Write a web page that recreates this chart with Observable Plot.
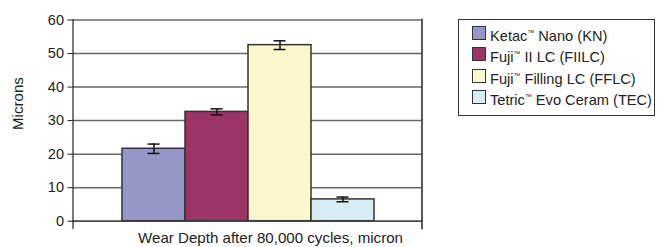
<!DOCTYPE html>
<html>
<head>
<meta charset="utf-8">
<script src="https://cdn.jsdelivr.net/npm/d3@7"></script>
<script src="https://cdn.jsdelivr.net/npm/@observablehq/plot@0.6"></script>
<style>
  html, body { margin: 0; padding: 0; background: #fff; }
  #wrap { position: relative; width: 657px; height: 247px; font-family: "Liberation Sans", Arial, sans-serif; color: #222; }
  #chart svg { display: block; }
  .xlabel { position: absolute; left: 138px; top: 229px; font-size: 15px; white-space: nowrap; transform-origin: 0 0; }
  .ylabel { position: absolute; left: 9px; top: 130px; font-size: 15px; white-space: nowrap; transform-origin: 0 0; }
  .legend { position: absolute; left: 458px; top: 19px; width: 197px; height: 97px; border: 1px solid #333; box-sizing: border-box; }
  .sw { position: absolute; left: 13px; width: 12px; height: 12px; border: 1px solid #333; }
  .lab { position: absolute; left: 31px; font-size: 15px; line-height: 14px; white-space: nowrap; transform-origin: 0 50%; }
  .tm { font-size: 7px; vertical-align: 6px; }
</style>
</head>
<body>
<div id="wrap">
  <div id="chart"></div>
  <div class="xlabel" id="xlabel"></div>
  <div class="ylabel" id="ylabel"></div>
  <div class="legend" id="legend"></div>
</div>
<script>
const categories = ["Ketac™ Nano (KN)", "Fuji™ II LC (FIILC)", "Fuji™ Filling LC (FFLC)", "Tetric™ Evo Ceram (TEC)"];
const values = [21.6, 32.6, 52.5, 6.5];
const errors = [1.4, 0.9, 1.3, 0.7];
const colors = ["#9796c9", "#9b3566", "#fcf8cd", "#d5edf3"];
const yTicks = [0, 10, 20, 30, 40, 50, 60];
const xTitle = "Wear Depth after 80,000 cycles, micron";
const yTitle = "Microns";

const data = categories.map((c, i) => ({cat: c, v: values[i], lo: values[i] - errors[i], hi: values[i] + errors[i]}));

const chart = Plot.plot({
  width: 657,
  height: 247,
  marginLeft: 72.5,
  marginRight: 235.5,
  marginTop: 19,
  marginBottom: 19,
  style: {fontFamily: '"Liberation Sans", Arial, sans-serif', fontSize: "14px", color: "#222"},
  x: {type: "band", domain: categories, range: [120.5, 375.5], padding: 0, axis: null},
  y: {domain: [0, 60], range: [220.7, 19.5], ticks: yTicks},
  color: {domain: categories, range: colors},
  marks: [
    Plot.ruleY(yTicks, {stroke: "#666", strokeWidth: 1.5}),
    Plot.barY(data, {x: "cat", y: "v", fill: "cat", stroke: "#333", strokeWidth: 1.5}),
    Plot.ruleY([0], {stroke: "#444", strokeWidth: 1.5}),
    Plot.ruleX(data, {x: "cat", y1: "lo", y2: "hi", stroke: "#111", strokeWidth: 1.5}),
    Plot.tickY(data, {x: "cat", y: "lo", stroke: "#111", strokeWidth: 1.5, insetLeft: 25.5, insetRight: 25.5}),
    Plot.tickY(data, {x: "cat", y: "hi", stroke: "#111", strokeWidth: 1.5, insetLeft: 25.5, insetRight: 25.5}),
    Plot.axisY(yTicks, {tickSize: 5, tickPadding: 4, stroke: "#222", label: null, fontSize: 14.5}),
    Plot.frame({anchor: "left", stroke: "#222", strokeWidth: 1.2}),
    Plot.frame({anchor: "right", stroke: "#222", strokeWidth: 1.5})
  ]
});
document.getElementById("chart").appendChild(chart);

const xl = document.getElementById("xlabel");
xl.textContent = xTitle;
const xScale = 265 / xl.getBoundingClientRect().width;
xl.style.transform = "scaleX(" + xScale + ")";

const yl = document.getElementById("ylabel");
yl.textContent = yTitle;
yl.style.transform = "rotate(-90deg) scaleX(" + xScale + ")";

const legend = document.getElementById("legend");
const tops = [6, 27, 49, 70];
const labels = [];
categories.forEach((c, i) => {
  const sw = document.createElement("div");
  sw.className = "sw";
  sw.style.top = tops[i] + "px";
  sw.style.background = colors[i];
  legend.appendChild(sw);
  const label = document.createElement("div");
  label.className = "lab";
  label.style.top = tops[i] + "px";
  c.split("™").forEach((part, j, arr) => {
    label.appendChild(document.createTextNode(part));
    if (j < arr.length - 1) {
      const tm = document.createElement("span");
      tm.className = "tm";
      tm.textContent = "™";
      label.appendChild(tm);
    }
  });
  legend.appendChild(label);
  labels.push(label);
});
const longest = Math.max(...labels.map(l => l.getBoundingClientRect().width));
const lScale = Math.min(1, 162 / longest);
labels.forEach(l => l.style.transform = "scaleX(" + lScale + ")");
</script>
</body>
</html>
